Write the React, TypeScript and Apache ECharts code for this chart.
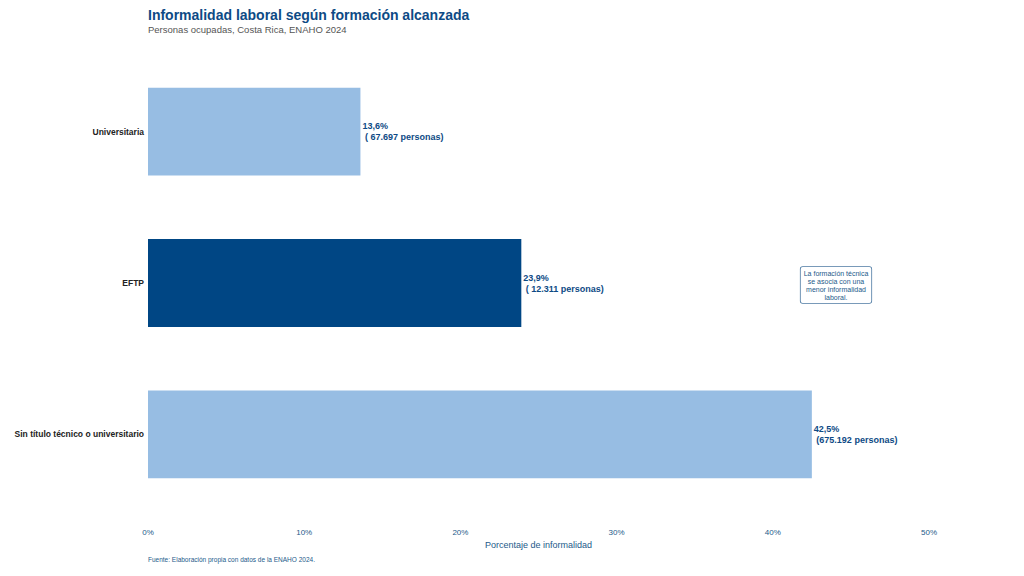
import { useEffect, useRef } from 'react';
import * as echarts from 'echarts';

const categories = ['Sin título técnico o universitario', 'EFTP', 'Universitaria'];
const values = [42.5, 23.9, 13.6];
const personas = ['675.192', ' 12.311', ' 67.697'];
const colors = ['#97bde3', '#004684', '#97bde3'];
const ticks = [0, 10, 20, 30, 40, 50];

const App = () => {
  const chartRef = useRef<HTMLDivElement>(null);

  useEffect(() => {
    if (!chartRef.current) return;
    const myChart = echarts.init(chartRef.current, null, { renderer: 'svg' });
    const font = 'Liberation Sans, Arial, sans-serif';

    const option = {
      animation: false,
      textStyle: { fontFamily: font },
      title: {
        text: 'Informalidad laboral según formación alcanzada',
        subtext: 'Personas ocupadas, Costa Rica, ENAHO 2024',
        left: 143,
        top: 3,
        itemGap: 2,
        textStyle: { color: '#0d4a85', fontSize: 14, fontWeight: 'bold', fontFamily: font },
        subtextStyle: { color: '#555', fontSize: 9.5, fontFamily: font }
      },
      grid: { left: 148, right: 95, top: 56, bottom: 66 },
      xAxis: {
        type: 'value',
        min: ticks[0],
        max: ticks[ticks.length - 1],
        interval: 10,
        name: 'Porcentaje de informalidad',
        nameLocation: 'middle',
        nameGap: 16,
        nameTextStyle: { color: '#245a8a', fontSize: 9 },
        axisLabel: { color: '#245a8a', fontSize: 8, formatter: '{value}%', margin: 18 },
        axisLine: { show: false },
        axisTick: { show: false },
        splitLine: { show: false }
      },
      yAxis: {
        type: 'category',
        data: categories,
        axisLabel: { color: '#222', fontSize: 8.5, fontWeight: 'bold', margin: 4 },
        axisLine: { show: false },
        axisTick: { show: false }
      },
      series: [
        {
          type: 'bar',
          barWidth: '58%',
          data: values.map((v, i) => ({ value: v, itemStyle: { color: colors[i] } })),
          label: {
            show: true,
            position: 'right',
            distance: 2,
            color: '#0d4a85',
            fontWeight: 'bold',
            fontSize: 9,
            lineHeight: 11,
            formatter: (p: any) =>
              `${String(p.value).replace('.', ',')}%\n (${personas[p.dataIndex]} personas)`
          }
        }
      ],
      graphic: [
        {
          type: 'text',
          x: 836,
          y: 267,
          style: {
            text: 'La formación técnica\nse asocia con una\nmenor informalidad\nlaboral.',
            align: 'center',
            verticalAlign: 'top',
            fill: '#245a8a',
            font: `7px ${font}`,
            lineHeight: 8,
            backgroundColor: '#fff',
            borderColor: '#4d7aa3',
            borderWidth: 0.8,
            borderRadius: 2,
            padding: [2, 3]
          }
        },
        {
          type: 'text',
          left: 148,
          top: 556,
          style: {
            text: 'Fuente: Elaboración propia con datos de la ENAHO 2024.',
            fill: '#245a8a',
            font: `6.5px ${font}`
          }
        }
      ]
    };

    myChart.setOption(option);
    const handleResize = () => myChart.resize();
    window.addEventListener('resize', handleResize);
    return () => {
      window.removeEventListener('resize', handleResize);
      myChart.dispose();
    };
  }, []);

  return (
    <div
      ref={chartRef}
      style={{ width: 1024, height: 576, position: 'absolute', left: 0, top: 0, background: '#fff' }}
    />
  );
};

export default App;
